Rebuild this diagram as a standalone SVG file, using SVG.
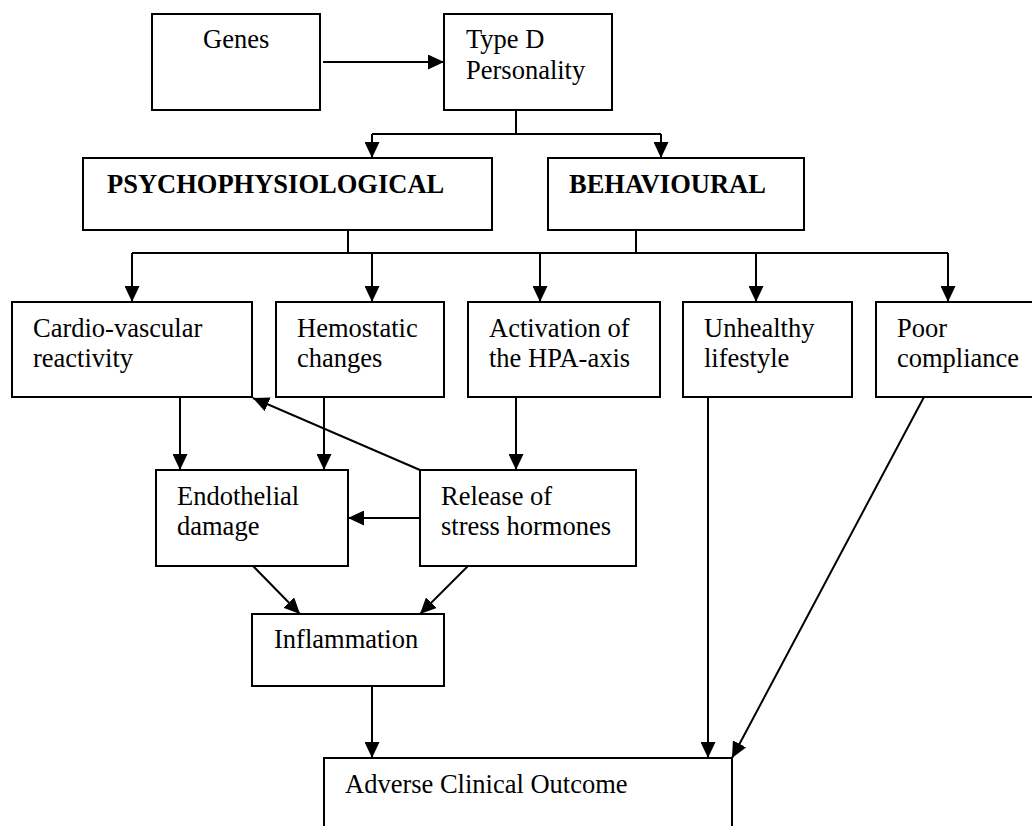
<svg xmlns="http://www.w3.org/2000/svg" width="1032" height="826" viewBox="0 0 1032 826">
<defs>
<style>
.box{fill:#fff;stroke:#000;stroke-width:2}
text{font-family:"Liberation Serif","Times New Roman",serif;font-size:26.5px;fill:#000}
.b{font-weight:bold}
.c{fill:none;stroke:#000;stroke-width:2}
</style>
<marker id="ah" markerUnits="userSpaceOnUse" viewBox="0 0 16 15" refX="16" refY="7.5" markerWidth="16" markerHeight="15" orient="auto">
<path d="M0,0 L16,7.5 L0,15 z" fill="#000"/>
</marker>
</defs>
<rect width="1032" height="826" fill="#fff"/>
<g id="genes"><rect class="box" x="152" y="14" width="168" height="96"/><text x="203" y="48">Genes</text></g>
<g id="typed"><rect class="box" x="444" y="14" width="168" height="96"/><text x="466" y="48">Type D</text><text x="466" y="79">Personality</text></g>
<g id="psycho"><rect class="box" x="83" y="158" width="409" height="72"/><text class="b" x="107" y="193">PSYCHOPHYSIOLOGICAL</text></g>
<g id="behav"><rect class="box" x="548" y="158" width="256" height="72"/><text class="b" x="569" y="193">BEHAVIOURAL</text></g>
<g id="cardio"><rect class="box" x="12" y="302" width="240" height="95"/><text x="33" y="337">Cardio-vascular</text><text x="33" y="367">reactivity</text></g>
<g id="hemo"><rect class="box" x="276" y="302" width="168" height="95"/><text x="297" y="337">Hemostatic</text><text x="297" y="367">changes</text></g>
<g id="hpa"><rect class="box" x="468" y="302" width="192" height="95"/><text x="489" y="337">Activation of</text><text x="489" y="367">the HPA-axis</text></g>
<g id="unhealthy"><rect class="box" x="683" y="302" width="169" height="95"/><text x="704" y="337">Unhealthy</text><text x="704" y="367">lifestyle</text></g>
<g id="poor"><rect class="box" x="876" y="302" width="170" height="95"/><text x="897" y="337">Poor</text><text x="897" y="367">compliance</text></g>
<g id="endo"><rect class="box" x="156" y="470" width="192" height="96"/><text x="177" y="505">Endothelial</text><text x="177" y="535">damage</text></g>
<g id="release"><rect class="box" x="420" y="470" width="216" height="96"/><text x="441" y="505">Release of</text><text x="441" y="535">stress hormones</text></g>
<g id="inflam"><rect class="box" x="252" y="614" width="192" height="72"/><text x="274" y="648">Inflammation</text></g>
<g id="adverse"><rect class="box" x="324" y="758" width="408" height="80"/><text x="345" y="793">Adverse Clinical Outcome</text></g>
<g id="connectors">
<path class="c" d="M323,62 H444" marker-end="url(#ah)"/>
<path class="c" d="M516,110 V134"/>
<path class="c" d="M372,134 H661"/>
<path class="c" d="M372,134 V158" marker-end="url(#ah)"/>
<path class="c" d="M661,134 V158" marker-end="url(#ah)"/>
<path class="c" d="M348,230 V253"/>
<path class="c" d="M636,230 V253"/>
<path class="c" d="M132,253 H948"/>
<path class="c" d="M132,253 V302" marker-end="url(#ah)"/>
<path class="c" d="M372,253 V302" marker-end="url(#ah)"/>
<path class="c" d="M540,253 V302" marker-end="url(#ah)"/>
<path class="c" d="M756,253 V302" marker-end="url(#ah)"/>
<path class="c" d="M948,253 V302" marker-end="url(#ah)"/>
<path class="c" d="M180,397 V470" marker-end="url(#ah)"/>
<path class="c" d="M324,397 V470" marker-end="url(#ah)"/>
<path class="c" d="M516,397 V470" marker-end="url(#ah)"/>
<path class="c" d="M420,470 L253,398" marker-end="url(#ah)"/>
<path class="c" d="M420,518 H348" marker-end="url(#ah)"/>
<path class="c" d="M253,566 L300,614" marker-end="url(#ah)"/>
<path class="c" d="M468,566 L420,614" marker-end="url(#ah)"/>
<path class="c" d="M372,686 V758" marker-end="url(#ah)"/>
<path class="c" d="M708,397 V758" marker-end="url(#ah)"/>
<path class="c" d="M924,397 L732,758" marker-end="url(#ah)"/>
</g>
</svg>
